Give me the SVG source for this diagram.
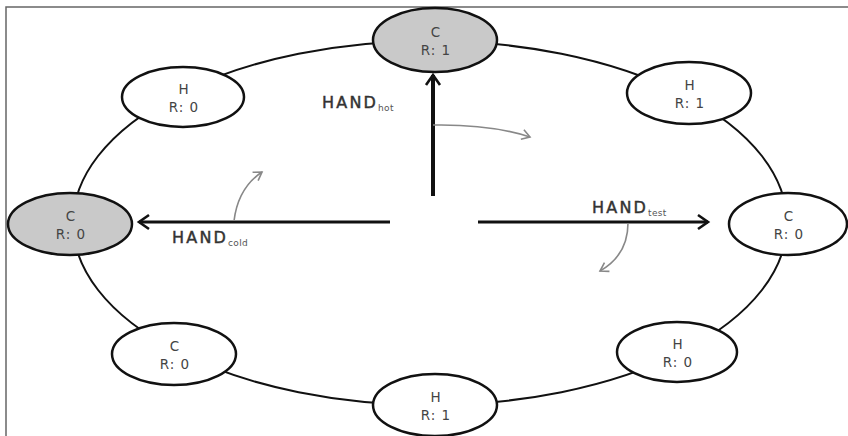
<svg xmlns="http://www.w3.org/2000/svg" width="848" height="436" viewBox="0 0 848 436">
<style>
.node ellipse{stroke:#111;stroke-width:2.5}
.w{fill:#fff}
.g{fill:#c9c9c9}
.t{font-family:"DejaVu Sans",sans-serif;font-size:13.5px;fill:#444;text-anchor:middle;letter-spacing:1px}
.lab{font-family:"DejaVu Sans",sans-serif;font-size:16px;fill:#333;stroke:#333;stroke-width:0.45;letter-spacing:2.2px}
.sub{font-size:9px;letter-spacing:0.3px;fill:#555;stroke:none}
.big{stroke:#111;fill:none}
.curve{stroke:#888;stroke-width:1.6;fill:none}
</style>
<defs>
<marker id="ah" markerUnits="userSpaceOnUse" markerWidth="20" markerHeight="20" refX="14" refY="8" orient="auto" viewBox="0 0 20 16">
<path d="M4,1 L14,8 L4,15" fill="none" stroke="#111" stroke-width="2.6"/>
</marker>
<marker id="ahg" markerUnits="userSpaceOnUse" markerWidth="14" markerHeight="14" refX="10" refY="6" orient="auto" viewBox="0 0 14 12">
<path d="M2,1 L10,6 L2,11" fill="none" stroke="#888" stroke-width="1.6"/>
</marker>
</defs>
<rect width="848" height="436" fill="#fff"/>
<path d="M6,436 V7 H848" fill="none" stroke="#666" stroke-width="1.5"/>
<g id="connectors">
<ellipse cx="430" cy="223" rx="357" ry="182" fill="none" stroke="#111" stroke-width="2"/>
<line class="big" x1="433" y1="196" x2="433" y2="75" stroke-width="4" marker-end="url(#ah)"/>
<line class="big" x1="390" y1="222" x2="139" y2="222" stroke-width="2.8" marker-end="url(#ah)"/>
<line class="big" x1="478" y1="222" x2="708" y2="222" stroke-width="2.8" marker-end="url(#ah)"/>
<path class="curve" d="M433,125 Q490,124 530,137" marker-end="url(#ahg)"/>
<path class="curve" d="M234,221 Q238,188 262,172" marker-end="url(#ahg)"/>
<path class="curve" d="M628,223 Q628,255 600,271" marker-end="url(#ahg)"/>
<text class="lab" x="322" y="108">HAND<tspan class="sub" dy="3">hot</tspan></text>
<text class="lab" x="172" y="243">HAND<tspan class="sub" dy="3">cold</tspan></text>
<text class="lab" x="592" y="213">HAND<tspan class="sub" dy="3">test</tspan></text>
</g>
<g id="n-top" class="node"><ellipse class="g" cx="435" cy="40" rx="62" ry="32"/><text class="t" x="436" y="37">C</text><text class="t" x="436" y="55">R: 1</text></g>
<g id="n-topright" class="node"><ellipse class="w" cx="689" cy="93" rx="62" ry="31"/><text class="t" x="690" y="90">H</text><text class="t" x="690" y="108">R: 1</text></g>
<g id="n-right" class="node"><ellipse class="w" cx="788" cy="224" rx="59" ry="31"/><text class="t" x="789" y="221">C</text><text class="t" x="789" y="239">R: 0</text></g>
<g id="n-bottomright" class="node"><ellipse class="w" cx="677" cy="352" rx="60" ry="30"/><text class="t" x="678" y="349">H</text><text class="t" x="678" y="367">R: 0</text></g>
<g id="n-bottom" class="node"><ellipse class="w" cx="435" cy="405" rx="62" ry="31"/><text class="t" x="436" y="402">H</text><text class="t" x="436" y="420">R: 1</text></g>
<g id="n-bottomleft" class="node"><ellipse class="w" cx="174" cy="354" rx="62" ry="31"/><text class="t" x="175" y="351">C</text><text class="t" x="175" y="369">R: 0</text></g>
<g id="n-left" class="node"><ellipse class="g" cx="70" cy="224" rx="62" ry="31"/><text class="t" x="71" y="221">C</text><text class="t" x="71" y="239">R: 0</text></g>
<g id="n-topleft" class="node"><ellipse class="w" cx="183" cy="97" rx="61" ry="30"/><text class="t" x="184" y="94">H</text><text class="t" x="184" y="112">R: 0</text></g>
</svg>
